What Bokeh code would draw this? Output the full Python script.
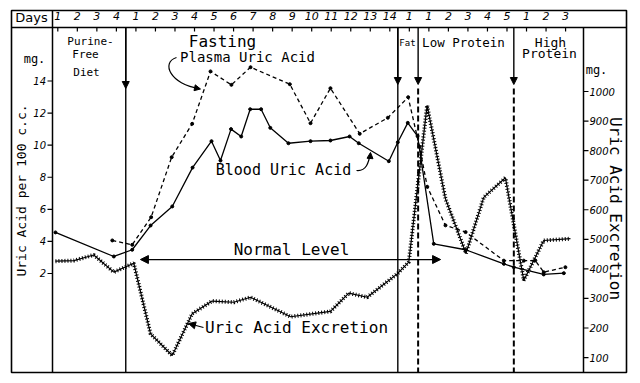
import math
from bokeh.plotting import figure
from bokeh.models import Range1d, Span, Arrow, NormalHead
from bokeh.core.properties import value
from bokeh.embed import file_html
from bokeh.resources import INLINE

# ---------------- data ----------------
day_labels = ["1", "2", "3", "4",
              "1", "2", "3", "4", "5", "6", "7", "8", "9", "10", "11", "12", "13", "14",
              "1",
              "1", "2", "3", "4", "5",
              "1", "2", "3"]
day_ticks = list(range(len(day_labels)))

# Blood uric acid (mg per 100 c.c.), x = position on the day scale
blood_day = [-0.12, 2.87, 3.81, 4.75, 5.86, 6.90, 7.87, 8.33, 8.87, 9.39, 9.85, 10.41, 10.88,
             11.81, 12.94, 13.96, 14.94, 15.41, 16.95, 17.41, 17.92, 18.42, 19.25, 20.88,
             22.84, 23.35, 24.88, 25.91]
blood_mg = [4.56, 3.06, 3.48, 4.99, 6.18, 8.60, 10.25, 9.04, 11.00, 10.54, 12.24, 12.24, 11.08,
            10.12, 10.25, 10.29, 10.54, 10.12, 9.00, 10.18, 11.39, 10.57, 3.85, 3.48,
            2.60, 2.39, 1.94, 2.02]

# Plasma uric acid (mg per 100 c.c.)
plasma_day = [2.79, 3.81, 4.78, 5.83, 6.88, 7.82, 8.89, 9.87, 11.88, 12.94, 13.96, 15.46,
              16.90, 17.94, 18.52, 18.92, 19.85, 20.88, 22.84, 23.86, 24.45, 24.88, 25.99]
plasma_mg = [4.06, 3.79, 5.51, 9.25, 11.33, 14.60, 13.76, 14.86, 13.80, 11.37, 13.55, 10.71,
             11.71, 12.99, 9.90, 7.40, 5.00, 4.58, 2.80, 2.80, 2.81, 2.08, 2.39]

# Uric acid excretion (mg, right scale)
excr_day = [-0.12, 0.82, 1.84, 2.87, 3.89, 4.75, 5.86, 6.88, 7.90, 9.01, 9.87, 11.92, 13.96,
            14.90, 15.84, 17.38, 17.97, 18.91, 19.85, 20.90, 21.81, 22.92, 23.86, 24.88, 26.25]
excr_mg = [426, 428, 447, 389, 419, 180, 107, 248, 291, 287, 304, 238, 256,
           318, 304, 383, 423, 953, 637, 452, 642, 708, 361, 496, 502]

left_ticks = [2, 4, 6, 8, 10, 12, 14]
left_labels = [str(t) for t in left_ticks]
right_ticks = [100, 200, 300, 400, 500, 600, 700, 800, 900, 1000]
right_labels = [str(t) for t in right_ticks]

period_bounds = [3.48, 17.41, 18.45, 23.35]
period_dashed = [False, False, True, True]
normal_level = 2.87
normal_from, normal_to = 4.23, 19.60


# ---------------- helpers for layout placement (page pixels -> data) -------------
def dx(px):
    return (px - 57.3) / 19.53


def dy(py):
    return 14 - (py - 80.5) / 16.04


MONO = value("DejaVu Sans Mono")
SANS = value("DejaVu Sans")

p = figure(width=634, height=378,
           x_range=Range1d(dx(11), dx(626)), y_range=Range1d(dy(372), dy(10)),
           x_axis_type=None, y_axis_type=None,
           output_backend="svg", toolbar_location=None,
           min_border_left=11, min_border_right=8, min_border_top=10, min_border_bottom=6,
           background_fill_color="white", border_fill_color="white")
p.extra_y_ranges = {"exc": Range1d(1000 - (372 - 91) / 0.2956, 1000 + (91 - 10) / 0.2956)}
p.grid.visible = False
p.outline_line_color = "black"
p.outline_line_width = 1.6

BLK = "black"
top_y, bot_y = dy(27), dy(372)

# header row, side scale rules
p.add_layout(Span(location=top_y, dimension="width", line_color=BLK, line_width=1.5))
p.add_layout(Span(location=dx(52), dimension="height", line_color=BLK, line_width=1.5))
p.segment(x0=[dx(583)], y0=[top_y], x1=[dx(583)], y1=[bot_y], line_color=BLK, line_width=1.5)

# day scale
p.segment(x0=day_ticks, y0=[top_y] * len(day_ticks), x1=day_ticks,
          y1=[dy(31)] * len(day_ticks), line_color=BLK, line_width=1.2)
p.text(x=day_ticks, y=[dy(15.5)] * len(day_ticks), text=day_labels,
       text_font=SANS, text_font_style="italic", text_font_size="11px",
       text_align="center", text_baseline="middle", text_color=BLK)
p.text(x=[dx(31)], y=[dy(17)], text=["Days"], text_font=SANS, text_font_size="13px",
       text_align="center", text_baseline="middle", text_color=BLK)

# left scale (mg per 100 c.c.)
p.segment(x0=[dx(47)] * len(left_ticks), y0=left_ticks, x1=[dx(52)] * len(left_ticks),
          y1=left_ticks, line_color=BLK, line_width=1.2)
p.text(x=[dx(45.5)] * len(left_ticks), y=left_ticks, text=left_labels,
       text_font=SANS, text_font_style="italic", text_font_size="10px",
       text_align="right", text_baseline="middle", text_color=BLK)
p.text(x=[dx(34)], y=[dy(58)], text=["mg."], text_font=MONO, text_font_size="12px",
       text_align="center", text_baseline="middle", text_color=BLK)
p.text(x=[dx(21)], y=[dy(190)], text=["Uric Acid per 100 c.c."], angle=math.pi / 2,
       text_font=MONO, text_font_size="13px",
       text_align="center", text_baseline="middle", text_color=BLK)

# right scale (mg excreted)
p.segment(x0=[dx(583)] * len(right_ticks), y0=right_ticks, x1=[dx(588)] * len(right_ticks),
          y1=right_ticks, y_range_name="exc", line_color=BLK, line_width=1.2)
p.text(x=[dx(589)] * len(right_ticks), y=right_ticks, text=right_labels, y_range_name="exc",
       text_font=SANS, text_font_style="italic", text_font_size="10px",
       text_align="left", text_baseline="middle", text_color=BLK)
p.text(x=[dx(596)], y=[dy(69)], text=["mg."], text_font=MONO, text_font_size="12px",
       text_align="center", text_baseline="middle", text_color=BLK)
p.text(x=[dx(615)], y=[dy(208)], text=["Uric Acid Excretion"], angle=-math.pi / 2,
       text_font=MONO, text_font_size="16px",
       text_align="center", text_baseline="middle", text_color=BLK)

# period boundaries
for b, dashed in zip(period_bounds, period_dashed):
    if dashed:
        p.segment(x0=[b], y0=[dy(88)], x1=[b], y1=[bot_y], line_color=BLK,
                  line_width=2, line_dash="6 3")
    else:
        p.segment(x0=[b], y0=[top_y], x1=[b], y1=[bot_y], line_color=BLK, line_width=1.4)
    tip = dy(88) if b < 5 else dy(84)
    p.add_layout(Arrow(end=NormalHead(size=7, fill_color=BLK, line_color=BLK),
                       x_start=b, y_start=top_y, x_end=b, y_end=tip,
                       line_color=BLK, line_width=1.4))

# series
p.line(blood_day, blood_mg, line_color=BLK, line_width=1.3)
p.scatter(blood_day, blood_mg, size=3, color=BLK)
p.line(plasma_day, plasma_mg, line_color=BLK, line_width=1.3, line_dash="4 3")
p.scatter(plasma_day, plasma_mg, size=3, color=BLK)
p.line(excr_day, excr_mg, y_range_name="exc", line_color=BLK, line_width=1.2)
p.line(excr_day, excr_mg, y_range_name="exc", line_color=BLK, line_width=4,
       line_dash="1 2")

# normal level
p.add_layout(Arrow(start=NormalHead(size=8, fill_color=BLK),
                   end=NormalHead(size=8, fill_color=BLK),
                   x_start=normal_from, y_start=normal_level,
                   x_end=normal_to, y_end=normal_level,
                   line_color=BLK, line_width=1.3))


def lab(text, px, py, size):
    p.text(x=[dx(px)], y=[dy(py)], text=[text], text_font=MONO,
           text_font_size=f"{size}px", text_align="center", text_baseline="middle",
           text_color=BLK)


lab("Purine-", 90, 41, 11)
lab("Free", 85, 54, 11)
lab("Diet", 86, 72, 11)
lab("Fasting", 222, 41, 16)
lab("Plasma Uric Acid", 247, 56, 14)
lab("Fat", 407, 42, 9)
lab("Low Protein", 463, 42, 12.5)
lab("High", 550, 42, 13)
lab("Protein", 549, 53, 13)
lab("Blood Uric Acid", 283, 169, 15)
lab("Normal Level", 291, 249, 16)
lab("Uric Acid Excretion", 296, 327, 16)

# curved pointer arrows
p.bezier(x0=[dx(176)], y0=[dy(57)], x1=[dx(199)], y1=[dy(88)],
         cx0=[dx(160)], cy0=[dy(62)], cx1=[dx(170)], cy1=[dy(84)],
         line_color=BLK, line_width=1.2)
p.add_layout(Arrow(end=NormalHead(size=6, fill_color=BLK),
                   x_start=dx(193), y_start=dy(87), x_end=dx(200), y_end=dy(88.5),
                   line_color=BLK, line_width=1.2))
p.bezier(x0=[dx(356)], y0=[dy(170)], x1=[dx(370)], y1=[dy(153)],
         cx0=[dx(366)], cy0=[dy(171)], cx1=[dx(368)], cy1=[dy(162)],
         line_color=BLK, line_width=1.2)
p.add_layout(Arrow(end=NormalHead(size=6, fill_color=BLK),
                   x_start=dx(369.5), y_start=dy(158), x_end=dx(370), y_end=dy(152),
                   line_color=BLK, line_width=1.2))
p.add_layout(Arrow(end=NormalHead(size=7, fill_color=BLK),
                   x_start=dx(203), y_start=dy(327), x_end=dx(188), y_end=dy(323),
                   line_color=BLK, line_width=1.2))

open("out.html", "w").write(file_html(p, INLINE))
